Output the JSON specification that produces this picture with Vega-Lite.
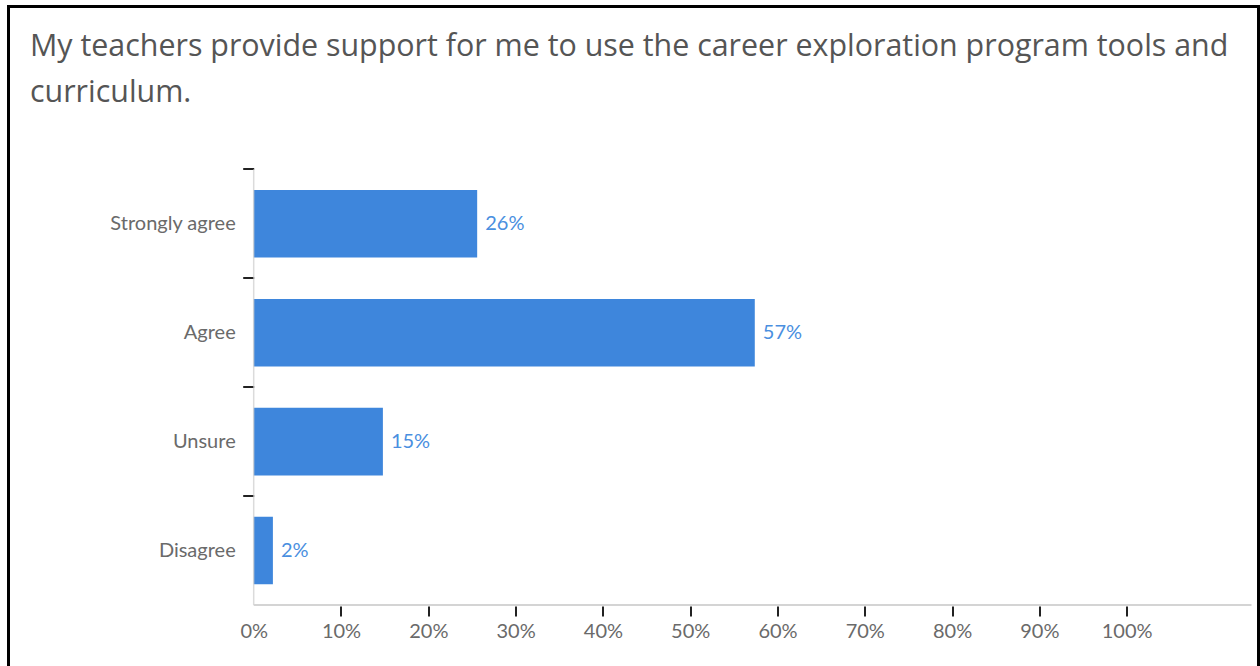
{
  "$schema": "https://vega.github.io/schema/vega-lite/v6.json",
  "width": 1250,
  "height": 664,
  "autosize": {"type": "none"},
  "padding": {"left": 8.5, "top": 6.5, "right": 1.5, "bottom": -4.5},
  "background": "white",
  "config": {"view": {"stroke": "#000000", "strokeWidth": 3, "fill": "white"}},
  "title": {
    "text": ["My teachers provide support for me to use the career exploration program tools and", "curriculum."],
    "anchor": "start",
    "frame": "group",
    "orient": "top",
    "offset": -102,
    "dx": 21.5,
    "baseline": "top",
    "font": "Open Sans",
    "fontSize": 30.4,
    "fontWeight": "normal",
    "color": "#555555",
    "lineHeight": 46
  },
  "data": {
    "values": [
      {"cat": "Strongly agree", "value": 25.6, "label": "26%"},
      {"cat": "Agree", "value": 57.4, "label": "57%"},
      {"cat": "Unsure", "value": 14.8, "label": "15%"},
      {"cat": "Disagree", "value": 2.2, "label": "2%"}
    ]
  },
  "layer": [
    {
      "mark": {"type": "bar", "color": "#3e86dc", "height": {"band": 0.62}},
      "encoding": {
        "x": {
          "field": "value",
          "type": "quantitative",
          "scale": {"domain": [-28.087, 115.1], "nice": false, "zero": false},
          "axis": {
            "title": null,
            "domain": false,
            "grid": false,
            "values": [0, 10, 20, 30, 40, 50, 60, 70, 80, 90, 100],
            "labelExpr": "datum.value + '%'",
            "tickColor": "#222222",
            "tickWidth": 2,
            "tickSize": 10,
            "tickOpacity": {"condition": {"test": "datum.value == 0", "value": 0}, "value": 1},
            "labelFont": "Lato",
            "labelFontSize": 20,
            "labelColor": "#6a6a6a",
            "labelPadding": 5,
            "labelFlush": false,
            "labelOverlap": false,
            "offset": -64.5
          }
        },
        "y": {
          "field": "cat",
          "type": "nominal",
          "sort": null,
          "scale": {"domain": ["Strongly agree", "Agree", "Unsure", "Disagree"], "range": [162.8, 598.5], "paddingInner": 0, "paddingOuter": 0},
          "axis": {
            "title": null,
            "domain": false,
            "grid": false,
            "bandPosition": 0,
            "tickColor": "#222222",
            "tickWidth": 2,
            "tickSize": 11,
            "labelPadding": 7.5,
            "labelFont": "Lato",
            "labelFontSize": 20,
            "labelColor": "#6a6a6a",
            "offset": -245.2
          }
        }
      }
    },
    {
      "mark": {"type": "tick", "color": "#cccccc", "thickness": 1.5, "size": 109, "orient": "vertical"},
      "encoding": {
        "x": {"datum": 0, "type": "quantitative"},
        "y": {"field": "cat", "type": "nominal", "sort": null}
      }
    },
    {
      "transform": [{"filter": "datum.cat === 'Disagree'"}],
      "mark": {"type": "rule", "color": "#d4d4d4", "strokeWidth": 2},
      "encoding": {
        "x": {"datum": 0, "type": "quantitative"},
        "x2": {"datum": 114.3},
        "y": {"field": "cat", "type": "nominal", "sort": null, "bandPosition": 1}
      }
    },
    {
      "mark": {"type": "text", "align": "left", "baseline": "middle", "dx": 8, "font": "Lato", "fontSize": 20, "color": "#4a8fe0"},
      "encoding": {
        "x": {"field": "value", "type": "quantitative"},
        "y": {"field": "cat", "type": "nominal", "sort": null},
        "text": {"field": "label"}
      }
    }
  ]
}
